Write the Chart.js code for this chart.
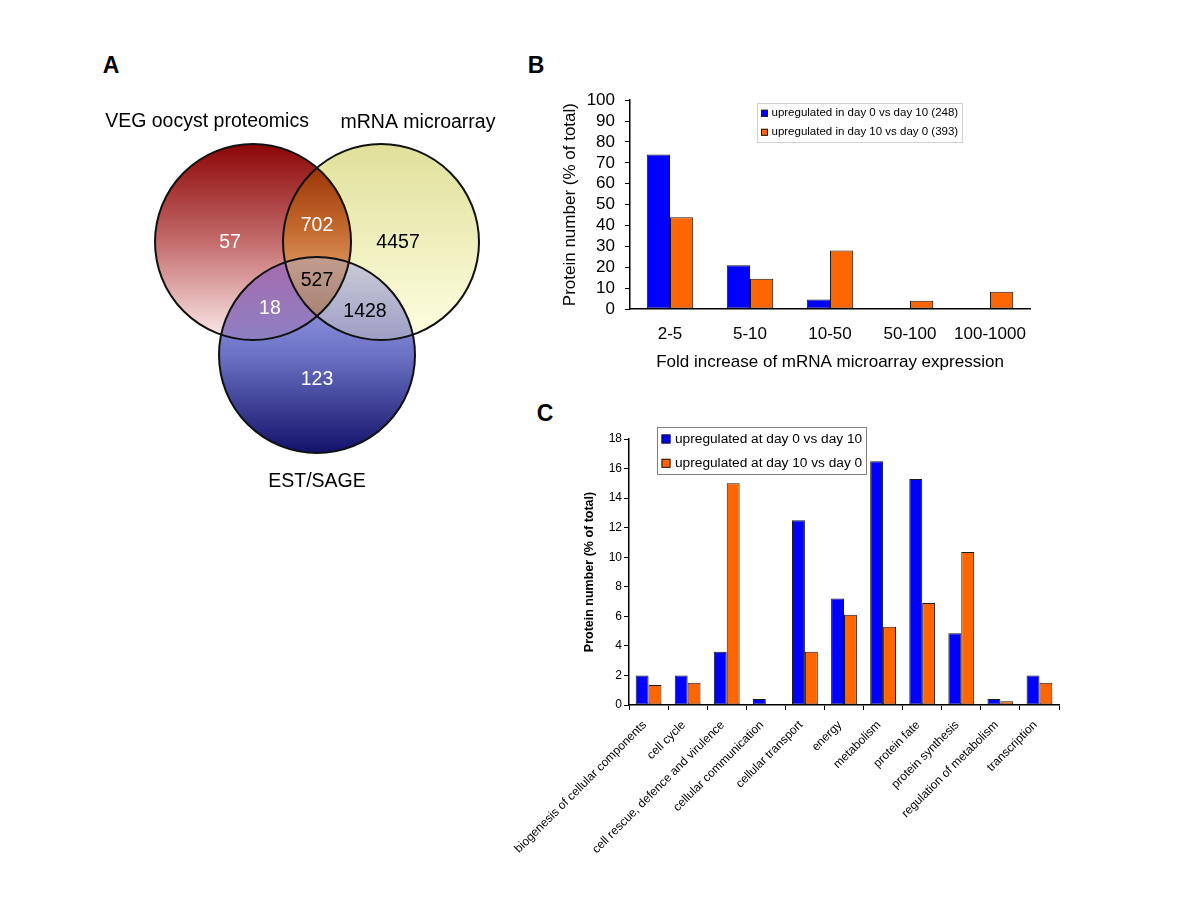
<!DOCTYPE html>
<html>
<head>
<meta charset="utf-8">
<title>Oocyst proteome vs. transcript data</title>
<script src="https://cdn.jsdelivr.net/npm/chart.js@4.4.1/dist/chart.umd.min.js"></script>
<style>
    html, body { margin: 0; padding: 0; background: #fff; }
    body { width: 1200px; height: 900px; position: relative; overflow: hidden; font-family: "Liberation Sans", Arial, sans-serif; }
    canvas { position: absolute; }
    .panel-letter { position: absolute; font-size: 23px; font-weight: bold; line-height: 1; transform: translate(-50%, -50%); color: #000; }
</style>
</head>
<body>
<div class="panel-letter" style="left:111px;top:65px">A</div>
<div class="panel-letter" style="left:536px;top:65px">B</div>
<div class="panel-letter" style="left:545px;top:413px">C</div>

<canvas id="vennChart" width="460" height="420" style="left:80px;top:90px"></canvas>
<canvas id="foldChart" width="510" height="310" style="left:540px;top:80px"></canvas>
<canvas id="categoryChart" width="600" height="500" style="left:480px;top:400px"></canvas>

<script>
// ---- data ----
const vennSetNames = ["VEG oocyst proteomics", "mRNA microarray", "EST/SAGE"];
const vennRegions = ["proteomics only", "proteomics + microarray", "microarray only", "all three",
    "proteomics + EST/SAGE", "microarray + EST/SAGE", "EST/SAGE only"];
const vennCounts = [57, 702, 4457, 527, 18, 1428, 123];

const foldBins = ["2-5", "5-10", "10-50", "50-100", "100-1000"];
const foldSeriesNames = ["upregulated in day 0 vs day 10 (248)", "upregulated in day 10 vs day 0 (393)"];
const foldDay0 = [74, 21, 4.5, 0, 0];
const foldDay10 = [44, 14.5, 28, 4, 8.3];
const foldYMax = 100;
const foldYStep = 10;

const funCategories = ["biogenesis of cellular components", "cell cycle", "cell rescue, defence and virulence",
    "cellular communication", "cellular transport", "energy", "metabolism", "protein fate",
    "protein synthesis", "regulation of metabolism", "transcription"];
const funSeriesNames = ["upregulated at day 0 vs day 10", "upregulated at day 10 vs day 0"];
const funDay0 = [2.0, 2.0, 3.6, 0.4, 12.5, 7.2, 16.5, 15.3, 4.85, 0.4, 2.0];
const funDay10 = [1.35, 1.5, 15.0, 0, 3.6, 6.1, 5.3, 6.9, 10.35, 0.25, 1.5];
const funYMax = 18;
const funYStep = 2;

// ---- styling / layout ----
const FONT = '"Liberation Sans", Arial, sans-serif';
const BLUE = "#0000ff";
const ORANGE = "#ff6600";
const EDGE = "#1a1a1a";

Chart.defaults.font.family = FONT;
Chart.defaults.color = "#000";

// Venn geometry, in circle radii (y grows downwards)
const vennRadius = 1;
const vennCircles = [{ x: -0.653, y: 0 }, { x: 0.653, y: 0 }, { x: 0, y: 1.153 }];
const vennCountSpots = [[-0.888, 0.01], [0, -0.163], [0.827, 0.01], [0, 0.398], [-0.48, 0.683], [0.49, 0.714], [0, 1.408]];
const vennCountInk = ["#fff", "#fff", "#000", "#000", "#fff", "#000", "#fff"];
const vennNameSpots = [[-1.122, -1.224], [1.03, -1.214], [0, 2.449]];

const vennFills = [
    { stops: ["#8c0606", "#c46c6c", "#fcecec"], from: -1, to: 1 },
    { stops: ["#e0e09a", "#fffee2"], from: -1, to: 1 },
    { stops: ["#aeb4f4", "#6c72c4", "#12126a"], from: 0.153, to: 2.153 },
];
const vennOverlapFills = [
    { sets: [0, 1], stops: ["#9c3608", "#c46a2e", "#e6aa78"], from: -0.76, to: 0.5 },
    { sets: [0, 2], stops: ["#a66cae", "#8c80c4"], from: 0.2, to: 1.03 },
    { sets: [1, 2], stops: ["#cacad6", "#9a9cc4"], from: 0.2, to: 1.05 },
    { sets: [0, 1, 2], stops: ["#c29c8c", "#a88272"], from: 0.16, to: 0.76 },
];

function radiusPx(chart) {
    const x = chart.scales.x;
    return x.getPixelForValue(vennRadius) - x.getPixelForValue(0);
}

function verticalGradient(chart, fill) {
    const y = chart.scales.y;
    const g = chart.ctx.createLinearGradient(0, y.getPixelForValue(fill.from), 0, y.getPixelForValue(fill.to));
    fill.stops.forEach((c, i) => g.addColorStop(i / (fill.stops.length - 1), c));
    return g;
}

function circlePath(chart, index) {
    const { ctx, scales } = chart;
    const c = vennCircles[index];
    ctx.beginPath();
    ctx.arc(scales.x.getPixelForValue(c.x), scales.y.getPixelForValue(c.y), radiusPx(chart), 0, Math.PI * 2);
}

const vennPainter = {
    id: "vennPainter",
    afterDatasetDraw(chart, args) {
        if (args.index !== 0) {
            return;
        }
        const ctx = chart.ctx;
        vennOverlapFills.forEach((region) => {
            ctx.save();
            region.sets.forEach((i) => {
                circlePath(chart, i);
                ctx.clip();
            });
            ctx.fillStyle = verticalGradient(chart, region);
            ctx.fillRect(0, 0, chart.width, chart.height);
            ctx.restore();
        });
    },
    afterDraw(chart) {
        const { ctx, scales: { x, y } } = chart;
        ctx.save();
        ctx.textAlign = "center";
        ctx.textBaseline = "middle";
        ctx.font = `19.5px ${FONT}`;
        vennCounts.forEach((count, i) => {
            const [sx, sy] = vennCountSpots[i];
            ctx.fillStyle = vennCountInk[i];
            ctx.fillText(String(count), x.getPixelForValue(sx), y.getPixelForValue(sy));
        });
        ctx.fillStyle = "#000";
        vennSetNames.forEach((name, i) => {
            const [sx, sy] = vennNameSpots[i];
            ctx.fillText(name, x.getPixelForValue(sx), y.getPixelForValue(sy));
        });
        ctx.restore();
    },
};

const boxLegend = {
    id: "boxLegend",
    afterDraw(chart, args, opts) {
        const ctx = chart.ctx;
        const [bx, by, bw, bh] = opts.box;
        ctx.save();
        ctx.fillStyle = "#fff";
        ctx.fillRect(bx, by, bw, bh);
        ctx.strokeStyle = opts.borderColor;
        ctx.lineWidth = 1;
        ctx.strokeRect(bx + 0.5, by + 0.5, bw, bh);
        ctx.font = opts.font;
        ctx.textBaseline = "middle";
        ctx.textAlign = "left";
        chart.data.datasets.forEach((ds, i) => {
            const cy = opts.rows[i];
            const s = opts.swatch;
            ctx.fillStyle = ds.backgroundColor;
            ctx.fillRect(opts.swatchX, cy - s / 2, s, s);
            ctx.strokeStyle = EDGE;
            ctx.strokeRect(opts.swatchX + 0.5, cy - s / 2 + 0.5, s - 1, s - 1);
            ctx.fillStyle = "#000";
            ctx.fillText(ds.label, opts.textX, cy);
        });
        ctx.restore();
    },
};

function initVenn() {
    const canvas = document.getElementById("vennChart");
    const unit = 98;
    const originX = 237;
    const originY = 152;
    new Chart(canvas, {
        type: "scatter",
        data: {
            datasets: [
                {
                    label: "fills",
                    data: vennCircles,
                    order: 2,
                    pointRadius: (c) => radiusPx(c.chart),
                    pointHoverRadius: (c) => radiusPx(c.chart),
                    pointBorderWidth: 0,
                    pointBackgroundColor: (c) => (c.chart.chartArea ? verticalGradient(c.chart, vennFills[c.dataIndex]) : "#ccc"),
                },
                {
                    label: "outlines",
                    data: vennCircles,
                    order: 1,
                    pointRadius: (c) => radiusPx(c.chart),
                    pointHoverRadius: (c) => radiusPx(c.chart),
                    pointBackgroundColor: "rgba(0,0,0,0)",
                    pointBorderColor: "#111",
                    pointBorderWidth: 2,
                },
            ],
        },
        options: {
            responsive: false,
            animation: false,
            events: [],
            layout: { padding: 0 },
            plugins: { legend: { display: false }, tooltip: { enabled: false } },
            scales: {
                x: { type: "linear", display: false, min: -originX / unit, max: (canvas.width - originX) / unit },
                y: { type: "linear", display: false, reverse: true, min: -originY / unit, max: (canvas.height - originY) / unit },
            },
        },
        plugins: [vennPainter],
    });
}

function barDataset(label, data, color) {
    return {
        label,
        data,
        backgroundColor: color,
        borderColor: EDGE,
        borderWidth: 1,
        borderSkipped: false,
    };
}

function initFoldChart() {
    new Chart(document.getElementById("foldChart"), {
        type: "bar",
        data: {
            labels: foldBins,
            datasets: [barDataset(foldSeriesNames[0], foldDay0, BLUE), barDataset(foldSeriesNames[1], foldDay10, ORANGE)],
        },
        options: {
            responsive: false,
            animation: false,
            events: [],
            categoryPercentage: 0.58,
            barPercentage: 1,
            layout: { padding: { top: 15, right: 20, left: 0, bottom: 0 } },
            plugins: {
                legend: { display: false },
                tooltip: { enabled: false },
                boxLegend: {
                    box: [217, 23, 205, 39],
                    rows: [33.3, 52.3],
                    swatch: 7,
                    swatchX: 221,
                    textX: 231.5,
                    font: `11.5px ${FONT}`,
                    borderColor: "#d0d0d0",
                },
            },
            scales: {
                x: {
                    grid: { display: true, drawOnChartArea: false, drawTicks: false, color: "#000" },
                    border: { color: "#000", width: 1.5 },
                    ticks: { font: { size: 17 }, padding: 15 },
                    title: { display: true, text: "Fold increase of mRNA microarray expression", font: { size: 17 }, padding: { top: 0, bottom: 17 } },
                    afterFit: (s) => { s.height = 81; },
                },
                y: {
                    min: 0,
                    max: foldYMax,
                    grid: { drawOnChartArea: false, tickLength: 5, color: "#000" },
                    border: { color: "#000", width: 1.5 },
                    ticks: { stepSize: foldYStep, autoSkip: false, font: { size: 17 }, padding: 10 },
                    title: { display: true, text: "Protein number (% of total)", font: { size: 17 }, padding: { top: 20, bottom: 0 } },
                    afterFit: (s) => { s.width = 90; },
                },
            },
        },
        plugins: [boxLegend],
    });
}

function initCategoryChart() {
    new Chart(document.getElementById("categoryChart"), {
        type: "bar",
        data: {
            labels: funCategories,
            datasets: [barDataset(funSeriesNames[0], funDay0, BLUE), barDataset(funSeriesNames[1], funDay10, ORANGE)],
        },
        options: {
            responsive: false,
            animation: false,
            events: [],
            categoryPercentage: 0.66,
            barPercentage: 1,
            layout: { padding: { top: 39, right: 21, left: 0, bottom: 0 } },
            plugins: {
                legend: { display: false },
                tooltip: { enabled: false },
                boxLegend: {
                    box: [177, 27, 209, 47],
                    rows: [39, 63.3],
                    swatch: 9,
                    swatchX: 181.5,
                    textX: 195,
                    font: `13.7px ${FONT}`,
                    borderColor: "#808080",
                },
            },
            scales: {
                x: {
                    grid: { display: true, drawOnChartArea: false, drawTicks: true, tickLength: 5, color: "#000", offset: true },
                    border: { color: "#000", width: 1.5 },
                    ticks: { font: { size: 12 }, padding: 8, labelOffset: -4, minRotation: 45, maxRotation: 45, autoSkip: false },
                    afterFit: (s) => { s.height = 195; },
                },
                y: {
                    min: 0,
                    max: funYMax,
                    grid: { drawOnChartArea: false, tickLength: 5, color: "#000" },
                    border: { color: "#000", width: 1.5 },
                    ticks: { stepSize: funYStep, autoSkip: false, font: { size: 12 }, padding: 2 },
                    title: { display: true, text: "Protein number (% of total)", font: { size: 12.5, weight: "bold" }, padding: { top: 102.5, bottom: 0 } },
                    afterFit: (s) => { s.width = 149; },
                },
            },
        },
        plugins: [boxLegend],
    });
}

document.addEventListener("DOMContentLoaded", () => {
    initVenn();
    initFoldChart();
    initCategoryChart();
});
</script>
</body>
</html>
